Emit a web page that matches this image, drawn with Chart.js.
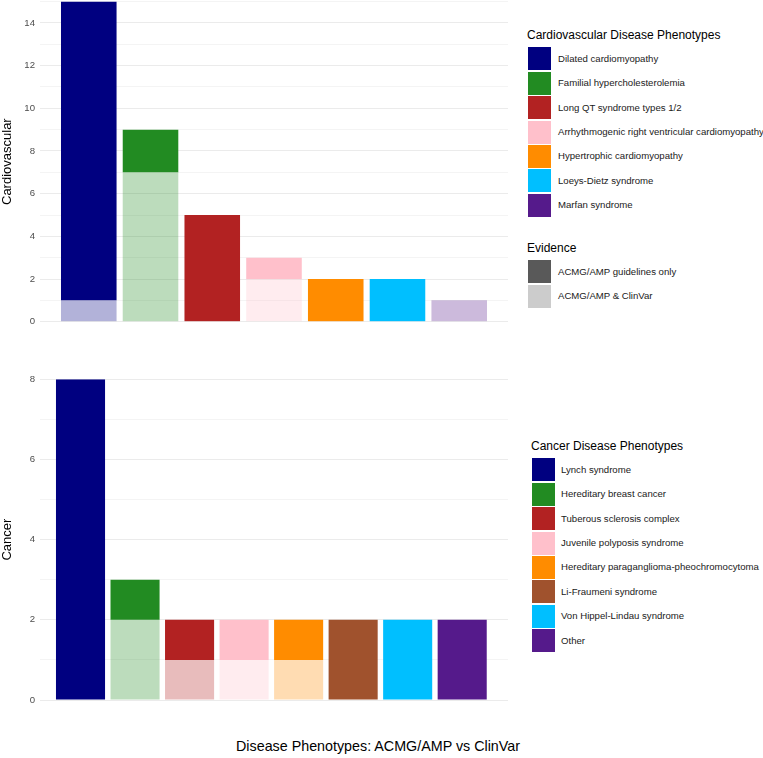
<!DOCTYPE html>
<html>
<head>
<meta charset="utf-8">
<script src="https://cdn.jsdelivr.net/npm/chart.js@4"></script>
<style>
  body { margin: 0; background: #fff; font-family: "Liberation Sans", Arial, sans-serif; }
  #wrap { position: relative; width: 763px; height: 758px; overflow: hidden; }
  canvas { position: absolute; left: 0; }
  .lg-title { position: absolute; font-size: 12px; color: #000; line-height: 14px; white-space: nowrap; }
  .lg-key { position: absolute; width: 23px; height: 23px; }
  .lg-text { position: absolute; font-size: 9.6px; color: #1a1a1a; line-height: 12px; white-space: nowrap; }
  #xtitle { position: absolute; left: 0; width: 756px; top: 738px; text-align: center; font-size: 14.3px; color: #000; }
</style>
</head>
<body>
<div id="wrap">
  <canvas id="cardio" width="515" height="330" style="top:0px"></canvas>
  <canvas id="cancer" width="515" height="345" style="top:365px"></canvas>
  <div id="legends"></div>
  <div id="xtitle">Disease Phenotypes: ACMG/AMP vs ClinVar</div>
</div>
<script>
const cardioPhenotypes = [
  'Dilated cardiomyopathy',
  'Familial hypercholesterolemia',
  'Long QT syndrome types 1/2',
  'Arrhythmogenic right ventricular cardiomyopathy',
  'Hypertrophic cardiomyopathy',
  'Loeys-Dietz syndrome',
  'Marfan syndrome'
];
const cardioClinVar = [1, 7, 0, 2, 0, 0, 1];
const cardioGuidelinesOnly = [14, 2, 5, 1, 2, 2, 0];
const cardioColors = ['#000080', '#228B22', '#B22222', '#FFC0CB', '#FF8C00', '#00BFFF', '#551A8B'];

const cancerPhenotypes = [
  'Lynch syndrome',
  'Hereditary breast cancer',
  'Tuberous sclerosis complex',
  'Juvenile polyposis syndrome',
  'Hereditary paraganglioma-pheochromocytoma',
  'Li-Fraumeni syndrome',
  'Von Hippel-Lindau syndrome',
  'Other'
];
const cancerClinVar = [0, 2, 1, 1, 1, 0, 0, 0];
const cancerGuidelinesOnly = [8, 1, 1, 1, 1, 2, 2, 2];
const cancerColors = ['#000080', '#228B22', '#B22222', '#FFC0CB', '#FF8C00', '#A0522D', '#00BFFF', '#551A8B'];

const evidenceLabels = ['ACMG/AMP guidelines only', 'ACMG/AMP & ClinVar'];
const evidenceColors = ['#595959', '#CCCCCC'];

const cardioTicks = [0, 2, 4, 6, 8, 10, 12, 14];
const cancerTicks = [0, 2, 4, 6, 8];

function lighten(hex, a) {
  const n = parseInt(hex.slice(1), 16);
  return `rgba(${(n >> 16) & 255}, ${(n >> 8) & 255}, ${n & 255}, ${a})`;
}

function makePanel(id, title, clinvar, only, colors, yMax, labelTicks, xPad, padding) {
  const pts = arr => arr.map((v, i) => ({ x: i, y: v }));
  return new Chart(document.getElementById(id), {
    type: 'bar',
    data: {
      datasets: [
        { label: evidenceLabels[1], data: pts(clinvar), backgroundColor: colors.map(c => lighten(c, 0.3)) },
        { label: evidenceLabels[0], data: pts(only), backgroundColor: colors }
      ]
    },
    options: {
      responsive: false,
      animation: false,
      devicePixelRatio: 1,
      layout: { padding: padding },
      datasets: { bar: { barPercentage: 0.9, categoryPercentage: 1, borderWidth: 0 } },
      plugins: { legend: { display: false }, tooltip: { enabled: false } },
      scales: {
        x: {
          type: 'linear',
          stacked: true,
          display: false,
          offset: false,
          bounds: 'data',
          min: -xPad[0],
          max: clinvar.length - 1 + xPad[1],
          // one tick per category so the bar ruler uses the category spacing
          afterBuildTicks: s => { s.ticks = clinvar.map((_, i) => ({ value: i })); }
        },
        y: {
          stacked: true,
          min: 0,
          max: yMax,
          border: { display: false },
          grid: {
            drawTicks: false,
            color: c => labelTicks.includes(c.tick.value) ? '#EBEBEB' : '#F4F4F4',
            lineWidth: 1
          },
          ticks: {
            stepSize: 1,
            autoSkip: false,
            includeBounds: false,
            padding: 5,
            color: '#4D4D4D',
            font: { family: '"Liberation Sans", Arial, sans-serif', size: 9.6 },
            callback: v => labelTicks.includes(v) ? String(v) : ''
          },
          title: {
            display: true,
            text: title,
            color: '#000',
            padding: { top: 0, bottom: 0 },
            font: { family: '"Liberation Sans", Arial, sans-serif', size: 13 }
          },
          afterFit: s => { s.width = 40; s.paddingTop = 0; s.paddingBottom = 0; }
        }
      }
    }
  });
}

makePanel('cardio', 'Cardiovascular', cardioClinVar, cardioGuidelinesOnly, cardioColors, 15,
  cardioTicks, [0.79, 0.79], { top: 1.6, bottom: 8.3, left: 0, right: 7 });
makePanel('cancer', 'Cancer', cancerClinVar, cancerGuidelinesOnly, cancerColors, 8,
  cancerTicks, [0.743, 0.84], { top: 14.3, bottom: 10, left: 0, right: 7 });

// legends
const lg = document.getElementById('legends');
function addLegend(title, labels, colors, titleY, keyX, textX, firstTop) {
  const t = document.createElement('div');
  t.className = 'lg-title';
  t.textContent = title;
  t.style.left = (keyX - 1) + 'px';
  t.style.top = (titleY - 7) + 'px';
  lg.appendChild(t);
  labels.forEach((lab, i) => {
    const top = firstTop + i * 24.4;
    const k = document.createElement('div');
    k.className = 'lg-key';
    k.style.left = keyX + 'px';
    k.style.top = top + 'px';
    k.style.background = colors[i];
    lg.appendChild(k);
    const tx = document.createElement('div');
    tx.className = 'lg-text';
    tx.textContent = lab;
    tx.style.left = textX + 'px';
    tx.style.top = (top + 5.5) + 'px';
    lg.appendChild(tx);
  });
}
addLegend('Cardiovascular Disease Phenotypes', cardioPhenotypes, cardioColors, 35, 528, 558, 47.3);
addLegend('Evidence', evidenceLabels, evidenceColors, 248, 528, 558, 260.3);
addLegend('Cancer Disease Phenotypes', cancerPhenotypes, cancerColors, 446, 532, 561, 458.3);
</script>
</body>
</html>
